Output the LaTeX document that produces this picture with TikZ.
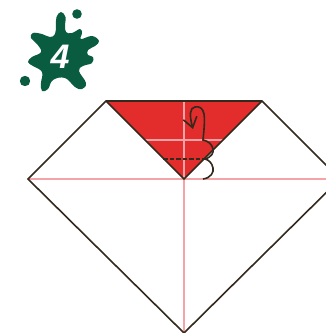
\documentclass[tikz,border=0pt]{standalone}
\usepackage{fontspec}
\setmainfont{Liberation Sans}
\usetikzlibrary{arrows.meta}
\definecolor{foldred}{HTML}{E32C2C}
\definecolor{foldline}{HTML}{33291C}
\definecolor{creasepink}{HTML}{F5A3A6}
\definecolor{splatgreen}{HTML}{0A5C40}
\begin{document}
\begin{tikzpicture}[
    x=1pt,y=-1pt,
    edge/.style={draw=foldline,line width=1.6pt},
    crease/.style={draw=creasepink,line width=1.3pt},
    arrow/.style={-{Straight Barb[length=10pt,width=14pt]},draw=foldline,line width=1.6pt}
  ]
    \useasboundingbox (0,0) rectangle (326,333);
    \clip (0,0) rectangle (326,333);
    % paper corners
    \coordinate (topleft) at (106,101);
    \coordinate (topright) at (262,101);
    \coordinate (centre) at (184,179);
    \coordinate (left) at (28,179);
    \coordinate (right) at (340,179);
    \coordinate (bottom) at (184,333);
    % folded flap
    \fill[foldred] (topleft) -- (topright) -- (centre) -- cycle;
    \draw[crease] (left) -- (326,179);
    \draw[crease] (184,101) -- (bottom);
    \draw[crease] (145,140) -- (223,140);
    \draw[edge] (topleft) -- (topright) -- (right) -- (bottom) -- (left) -- cycle;
    \draw[edge] (topleft) -- (centre) -- (topright);
    \draw[edge,dash pattern=on 4.5pt off 2pt] (163,159) -- (205,159);
    % fold arrow
    \draw[edge] (203,179) .. controls (211,178) and (214,172) .. (213,168)
      .. controls (212,163) and (209,160) .. (205,159);
    \draw[arrow] (205,159) .. controls (212,157) and (214,152) .. (213,149)
      .. controls (212,144) and (208,141) .. (203,140)
      .. controls (204,130) and (205,120) .. (204,114)
      .. controls (203,108) and (199,106) .. (195,107)
      .. controls (190,108) and (189,114) .. (193,129);
    % step badge
    \fill[splatgreen] plot[smooth cycle,tension=0.7] coordinates {
      (61,12) (65.5,17) (65,25) (66,32) (72,33) (80,29) (82,33) (81,39)
      (92,36) (99,41) (95,46) (88,50) (88,55) (93,57) (92,63) (83,66)
      (79,71) (86,83) (82,89) (75,87) (65,78) (53,80) (48,89) (42,91)
      (41,83) (42,72) (33,66) (28,62) (32,57) (41,52) (37,44) (31,38)
      (33,33) (42,34) (50,37) (55,34) (56,25) (56.5,17)};
    \fill[splatgreen] (77,14) circle (4.8);
    \fill[splatgreen] (25,81) circle (5.2);
    \node[text=white,font=\bfseries\itshape\fontsize{34}{34}\selectfont] (stepnumber) at (60,56.5) {4};
  \end{tikzpicture}
\end{document}
